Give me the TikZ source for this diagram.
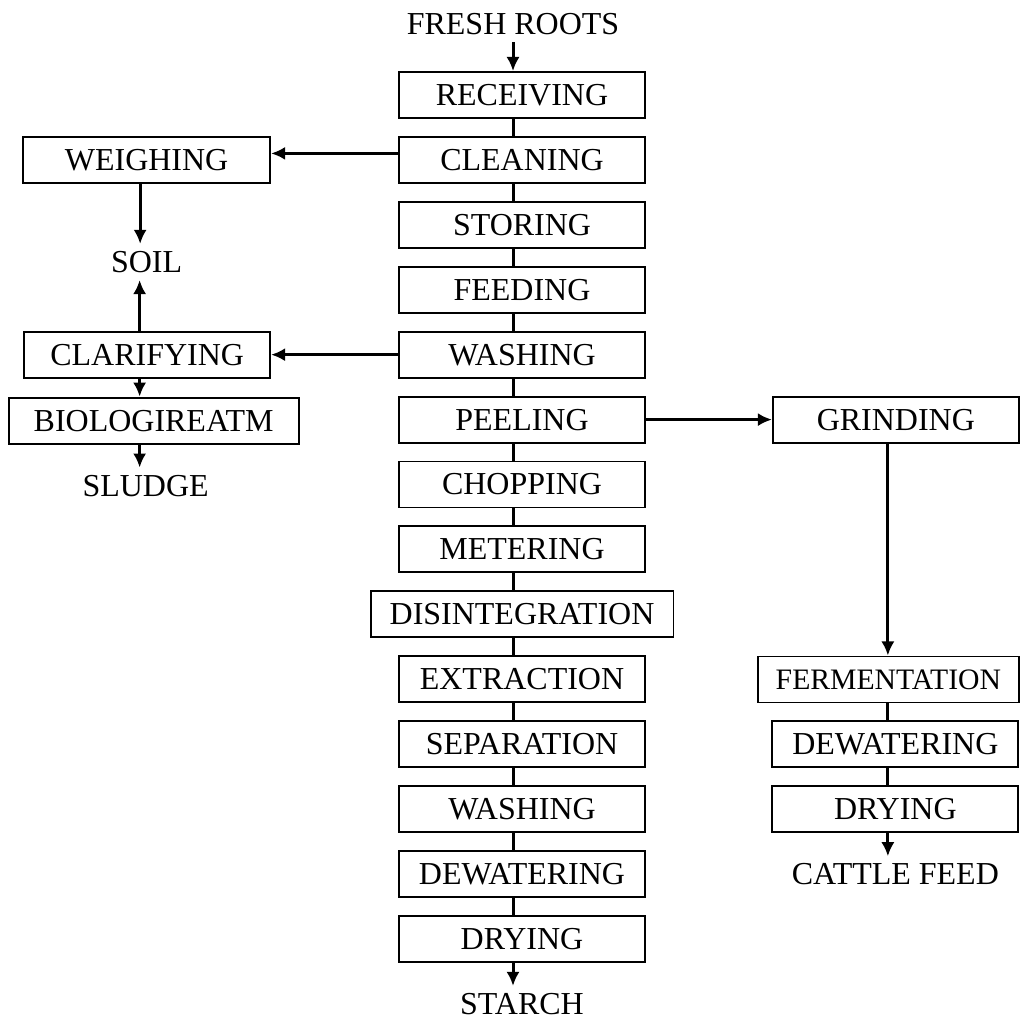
\documentclass[tikz,border=0pt]{standalone}
\usepackage{fontspec}
\setmainfont{Liberation Serif}
\usetikzlibrary{positioning, arrows.meta}

\begin{document}
\begin{tikzpicture}[x=0.02cm, y=-0.02cm, >={Latex[length=8pt, width=7.5pt]},
    stepbox/.style={draw, line width=1.1pt, minimum width=4.92cm, minimum height=0.92cm, inner sep=0pt, font=\fontsize{18.2}{22}\selectfont},
    endtext/.style={inner sep=0.14cm, font=\fontsize{18.2}{22}\selectfont},
    link/.style={line width=1.7pt}]
    \useasboundingbox (0,0) rectangle (1026,1023);

    % main line
    \node[stepbox] (receiving) at (522,95) {RECEIVING};
    \node[stepbox, below = 0.34cm of receiving] (cleaning) {CLEANING};
    \node[stepbox, below = 0.34cm of cleaning] (storing) {STORING};
    \node[stepbox, below = 0.34cm of storing] (feeding) {FEEDING};
    \node[stepbox, below = 0.34cm of feeding] (washing) {WASHING};
    \node[stepbox, below = 0.34cm of washing] (peeling) {PEELING};
    \node[stepbox, below = 0.34cm of peeling] (chopping) {CHOPPING};
    \node[stepbox, below = 0.34cm of chopping] (metering) {METERING};
    \node[stepbox, below = 0.34cm of metering, minimum width=6.06cm] (disintegration) {DISINTEGRATION};
    \node[stepbox, below = 0.34cm of disintegration] (extraction) {EXTRACTION};
    \node[stepbox, below = 0.34cm of extraction] (separation) {SEPARATION};
    \node[stepbox, below = 0.34cm of separation] (washingb) {WASHING};
    \node[stepbox, below = 0.34cm of washingb] (dewatering) {DEWATERING};
    \node[stepbox, below = 0.34cm of dewatering] (drying) {DRYING};
    \node[endtext, above = 0.58cm of receiving, xshift=-0.18cm] (roots) {FRESH ROOTS};
    \node[endtext, below = 0.46cm of drying] (starch) {STARCH};

    % waste water side
    \node[stepbox, left = 2.54cm of cleaning, minimum width=4.94cm] (weighing) {WEIGHING};
    \node[stepbox, left = 2.54cm of washing] (clarifying) {CLARIFYING};
    \node[stepbox, below = 0.36cm of clarifying, xshift=0.13cm, minimum width=5.8cm] (biotreat) {BIOLOGIREATM};
    \node[endtext, below = 1.2cm of weighing] (soil) {SOIL};
    \node[endtext, below = 0.46cm of biotreat, xshift=-0.16cm] (sludge) {SLUDGE};

    % peel side
    \node[stepbox, right = 2.52cm of peeling] (grinding) {GRINDING};
    \node[stepbox, below = 4.24cm of grinding, xshift=-0.15cm, minimum width=5.22cm, font=\fontsize{16.9}{20}\selectfont] (fermentation) {FERMENTATION};
    \node[stepbox, below = 0.34cm of fermentation, xshift=0.14cm] (dewateringb) {DEWATERING};
    \node[stepbox, below = 0.34cm of dewateringb] (dryingb) {DRYING};
    \node[endtext, below = 0.46cm of dryingb] (cattlefeed) {CATTLE FEED};

    \foreach \a/\b in {receiving/cleaning, cleaning/storing, storing/feeding, feeding/washing, washing/peeling, peeling/chopping, chopping/metering, metering/disintegration, disintegration/extraction, extraction/separation, separation/washingb, washingb/dewatering, dewatering/drying}
        \draw[link] ([xshift=-0.18cm]\a.south) -- ([xshift=-0.18cm]\b.north);
    \draw[link, ->] (roots.south) -- (roots.south |- receiving.north);
    \draw[link, ->] ([xshift=-0.18cm]drying.south) -- ([xshift=-0.18cm]drying.south |- starch.north);

    \draw[link, ->] ([yshift=0.13cm]cleaning.west) -- ([yshift=0.13cm]cleaning.west -| weighing.east);
    \draw[link, ->] (washing.west) -- (clarifying.east);
    \draw[link, ->] ([xshift=-0.13cm]weighing.south) -- ([xshift=-0.13cm]weighing.south |- soil.north);
    \draw[link, ->] ([xshift=-0.15cm]clarifying.north) -- ([xshift=-0.15cm]clarifying.north |- soil.south);
    \draw[link, ->] ([xshift=-0.15cm]clarifying.south) -- ([xshift=-0.15cm]clarifying.south |- biotreat.north);
    \draw[link, ->] ([xshift=-0.15cm]clarifying.south |- biotreat.south) -- ([xshift=-0.15cm]clarifying.south |- sludge.north);

    \draw[link, ->] (peeling.east) -- (grinding.west);
    \draw[link, ->] ([xshift=-0.16cm]grinding.south) -- ([xshift=-0.16cm]grinding.south |- fermentation.north);
    \draw[link] ([xshift=-0.16cm]grinding.south |- fermentation.south) -- ([xshift=-0.16cm]grinding.south |- dewateringb.north);
    \draw[link] ([xshift=-0.16cm]grinding.south |- dewateringb.south) -- ([xshift=-0.16cm]grinding.south |- dryingb.north);
    \draw[link, ->] ([xshift=-0.16cm]grinding.south |- dryingb.south) -- ([xshift=-0.16cm]grinding.south |- cattlefeed.north);
\end{tikzpicture}
\end{document}
